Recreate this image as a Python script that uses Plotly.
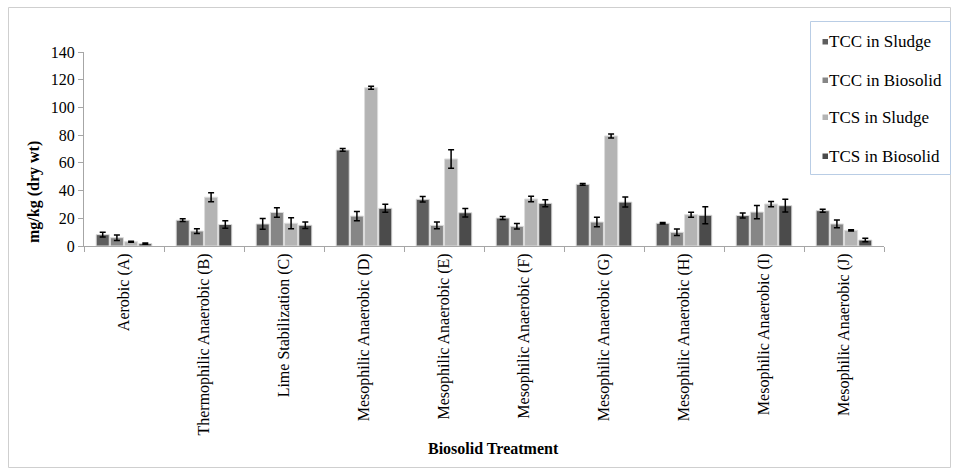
import plotly.graph_objects as go

categories = ["Aerobic (A)", "Thermophilic Anaerobic (B)", "Lime Stabilization (C)",
              "Mesophilic Anaerobic (D)", "Mesophilic Anaerobic (E)", "Mesophilic Anaerobic (F)",
              "Mesophilic Anaerobic (G)", "Mesophilic Anaerobic (H)", "Mesophilic Anaerobic (I)",
              "Mesophilic Anaerobic (J)"]

tcc_sludge = [8.2, 18.6, 15.9, 69.3, 33.7, 20.2, 44.5, 16.4, 22.0, 25.5]
tcc_sludge_err = [1.7, 1.0, 3.9, 1.0, 2.0, 1.0, 0.6, 0.5, 1.8, 1.1]
tcc_biosolid = [6.0, 10.8, 24.2, 21.6, 14.9, 14.2, 17.3, 9.9, 24.5, 15.9]
tcc_biosolid_err = [2.0, 1.7, 3.4, 3.3, 2.5, 2.0, 3.4, 2.3, 4.8, 2.8]
tcs_sludge = [3.1, 35.2, 16.4, 114.2, 62.8, 33.9, 79.4, 22.6, 30.3, 11.3]
tcs_sludge_err = [0.4, 3.3, 4.0, 1.0, 6.7, 2.0, 1.5, 1.8, 1.9, 0.5]
tcs_biosolid = [1.7, 15.5, 15.0, 27.2, 24.0, 30.8, 31.7, 22.2, 29.1, 4.3]
tcs_biosolid_err = [0.5, 2.7, 2.4, 2.9, 3.0, 2.5, 3.6, 6.1, 4.6, 1.3]

series_names = ["TCC in Sludge", "TCC in Biosolid", "TCS in Sludge", "TCS in Biosolid"]
series_values = [tcc_sludge, tcc_biosolid, tcs_sludge, tcs_biosolid]
series_errors = [tcc_sludge_err, tcc_biosolid_err, tcs_sludge_err, tcs_biosolid_err]
series_colors = ["#5e5e5e", "#868686", "#b4b4b4", "#4b4b4b"]

FONT = "Liberation Serif, Times New Roman, serif"

W, H = 954, 471
L, R, T, B = 84, 884, 52, 246
pw, ph = R - L, B - T

def px2x(px):
    return (px - L) / pw

def px2y(py):
    return (B - py) / ph

fig = go.Figure()
for name, vals, errs, col in zip(series_names, series_values, series_errors, series_colors):
    fig.add_trace(go.Bar(
        x=categories, y=vals, name=name, showlegend=False,
        marker=dict(color=col, line=dict(color="#dcdcdc", width=1)),
        error_y=dict(type="data", array=errs, color="black", thickness=1.5, width=3),
    ))

shapes = [dict(
    type="rect", xref="paper", yref="paper",
    x0=px2x(8.5), x1=px2x(950.5), y0=px2y(467.5), y1=px2y(7.5),
    line=dict(color="#cfcfcf", width=1), fillcolor="rgba(0,0,0,0)", layer="below",
)]
# legend box
shapes.append(dict(
    type="rect", xref="paper", yref="paper",
    x0=px2x(810.5), x1=px2x(950.5), y0=px2y(174.5), y1=px2y(21.5),
    line=dict(color="#b9cde5", width=1), fillcolor="white", layer="above",
))

annotations = []
legend_y = [41.5, 80, 117, 156]
for name, col, ly in zip(series_names, series_colors, legend_y):
    shapes.append(dict(
        type="rect", xref="paper", yref="paper",
        x0=px2x(822.5), x1=px2x(828), y0=px2y(ly + 3), y1=px2y(ly - 2.5),
        line=dict(width=0), fillcolor=col, layer="above",
    ))
    annotations.append(dict(
        xref="paper", yref="paper", x=px2x(827), y=px2y(ly),
        xanchor="left", yanchor="middle", showarrow=False, text=name,
        font=dict(family=FONT, size=17, color="black"),
    ))

annotations.append(dict(
    xref="paper", yref="paper", x=px2x(493), y=px2y(449),
    xanchor="center", yanchor="middle", showarrow=False,
    text="<b>Biosolid Treatment</b>", font=dict(family=FONT, size=16, color="black"),
))
annotations.append(dict(
    xref="paper", yref="paper", x=px2x(34), y=px2y(192),
    xanchor="center", yanchor="middle", showarrow=False, textangle=-90,
    text="<b>mg/kg (dry wt)</b>", font=dict(family=FONT, size=16, color="black"),
))

fig.update_layout(
    width=W, height=H,
    margin=dict(l=L, r=W - R, t=T, b=H - B, autoexpand=False),
    paper_bgcolor="white", plot_bgcolor="white",
    barmode="group", bargap=0.29, bargroupgap=0.08,
    font=dict(family=FONT, color="black"),
    showlegend=False,
    xaxis=dict(
        tickangle=-90, tickfont=dict(family=FONT, size=16, color="black"),
        showline=True, linecolor="#a6a6a6", linewidth=1,
        ticks="outside", tickson="boundaries", ticklen=5, tickcolor="#a6a6a6",
        showgrid=False, automargin=False,
    ),
    yaxis=dict(
        range=[0, 140], dtick=20,
        tickfont=dict(family=FONT, size=16, color="black"),
        showline=True, linecolor="#a6a6a6", linewidth=1,
        ticks="outside", ticklen=5, tickcolor="#a6a6a6",
        showgrid=False, zeroline=False, automargin=False,
    ),
    shapes=shapes,
    annotations=annotations,
)

fig.write_html("out.html", config={"displayModeBar": False},
               post_script="document.body.style.margin='0';document.body.style.overflow='hidden';")
